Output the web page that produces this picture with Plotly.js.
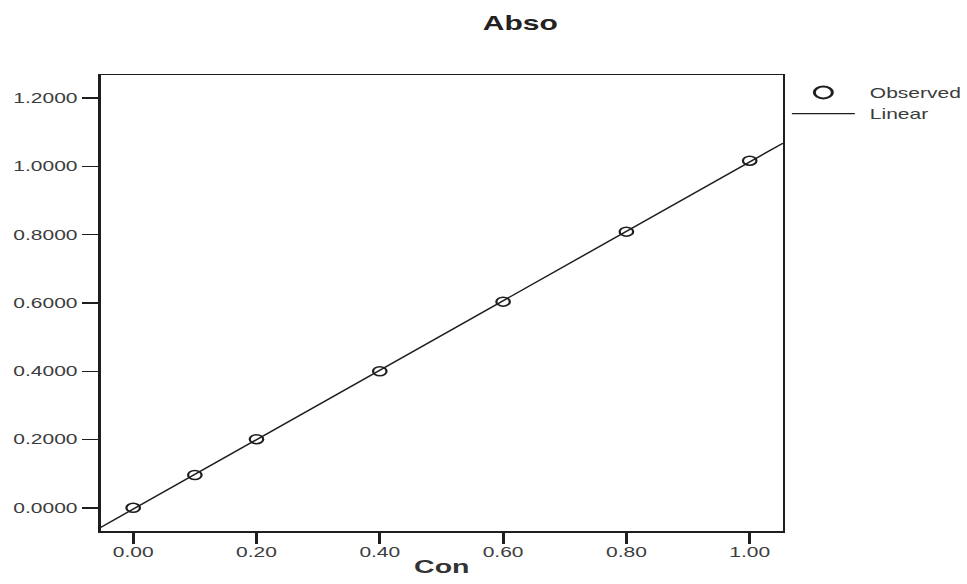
<!DOCTYPE html>
<html>
<head>
<meta charset="utf-8">
<script src="https://cdn.plot.ly/plotly-3.0.1.min.js"></script>
<style>
  html, body { margin: 0; padding: 0; background: #fff; overflow: hidden; }
  #wrap { position: absolute; left: 0; top: 0; width: 967px; height: 584px; overflow: hidden; }
  #chart { position: absolute; left: 0; top: 0; width: 644.67px; height: 584px; transform: scaleX(1.5); transform-origin: 0 0; }
  #chart .legend .legendlines path { stroke-width: 1.3px !important; }
  #chart .legend .legendtext { transform: translateX(5px); }
</style>
</head>
<body>
<div id="wrap"><div id="chart"></div></div>
<script>
// ---- data ----
const con = [0.00, 0.10, 0.20, 0.40, 0.60, 0.80, 1.00];
const abso = [0.000, 0.096, 0.201, 0.400, 0.604, 0.809, 1.017];
const xTicks = [0.0, 0.2, 0.4, 0.6, 0.8, 1.0];
const yTicks = [0.0, 0.2, 0.4, 0.6, 0.8, 1.0, 1.2];
const xRange = [-0.053, 1.054];
const yRange = [-0.068, 1.268];
const titleText = 'Abso';
const xTitle = 'Con';
const seriesNames = ['Observed', 'Linear'];

// least-squares linear fit of the observed values
const n = con.length;
const mx = con.reduce((a, b) => a + b, 0) / n;
const my = abso.reduce((a, b) => a + b, 0) / n;
let sxy = 0, sxx = 0;
for (let i = 0; i < n; i++) { sxy += (con[i] - mx) * (abso[i] - my); sxx += (con[i] - mx) ** 2; }
const slope = sxy / sxx;
const intercept = my - slope * mx;
const fitX = xRange.slice();
const fitY = fitX.map(x => intercept + slope * x);

const ink = '#1e1e1e';
const txt = '#3c3c3c';
const font = 'Liberation Sans, Arial, sans-serif';

const traces = [
  {
    x: con, y: abso, type: 'scatter', mode: 'markers', name: seriesNames[0],
    marker: { symbol: 'circle-open', size: 9, color: ink, line: { width: 1.5, color: ink } },
    cliponaxis: false
  },
  {
    x: fitX, y: fitY, type: 'scatter', mode: 'lines', name: seriesNames[1],
    line: { color: ink, width: 1.3 }
  }
];

const layout = {
  width: 644.67, height: 584,
  margin: { l: 67.3, r: 122.67, t: 75, b: 53, autoexpand: false },
  paper_bgcolor: '#fff', plot_bgcolor: '#fff',
  font: { family: font, color: txt, size: 14 },
  title: {
    text: '<b>' + titleText + '</b>',
    font: { family: font, size: 20, color: '#222' },
    xref: 'container', x: 0.538, xanchor: 'center',
    yref: 'container', y: 0.96, yanchor: 'middle'
  },
  xaxis: {
    range: xRange, tickvals: xTicks, tickformat: '.2f',
    showgrid: false, zeroline: false,
    showline: true, linecolor: ink, linewidth: 1.5, mirror: true,
    ticks: 'outside', ticklen: 11, tickwidth: 2, tickcolor: ink,
    ticklabelstandoff: -3,
    tickfont: { family: font, size: 14, color: txt },
    title: { text: '<b>' + xTitle + '</b>', font: { family: font, size: 19, color: '#333' }, standoff: 0 }
  },
  yaxis: {
    range: yRange, tickvals: yTicks, tickformat: '.4f',
    showgrid: false, zeroline: false,
    showline: true, linecolor: ink, linewidth: 1.5, mirror: true,
    ticks: 'outside', ticklen: 11, tickwidth: 1.5, tickcolor: ink,
    tickfont: { family: font, size: 14, color: txt }
  },
  showlegend: true,
  legend: {
    x: 1.002, xanchor: 'left', y: 0.996, yanchor: 'top',
    bgcolor: 'rgba(0,0,0,0)', borderwidth: 0,
    font: { family: font, size: 14, color: txt },
    itemsizing: 'constant', itemwidth: 42, tracegroupgap: 0
  }
};

Plotly.newPlot('chart', traces, layout, { displayModeBar: false, staticPlot: true });
</script>
</body>
</html>
